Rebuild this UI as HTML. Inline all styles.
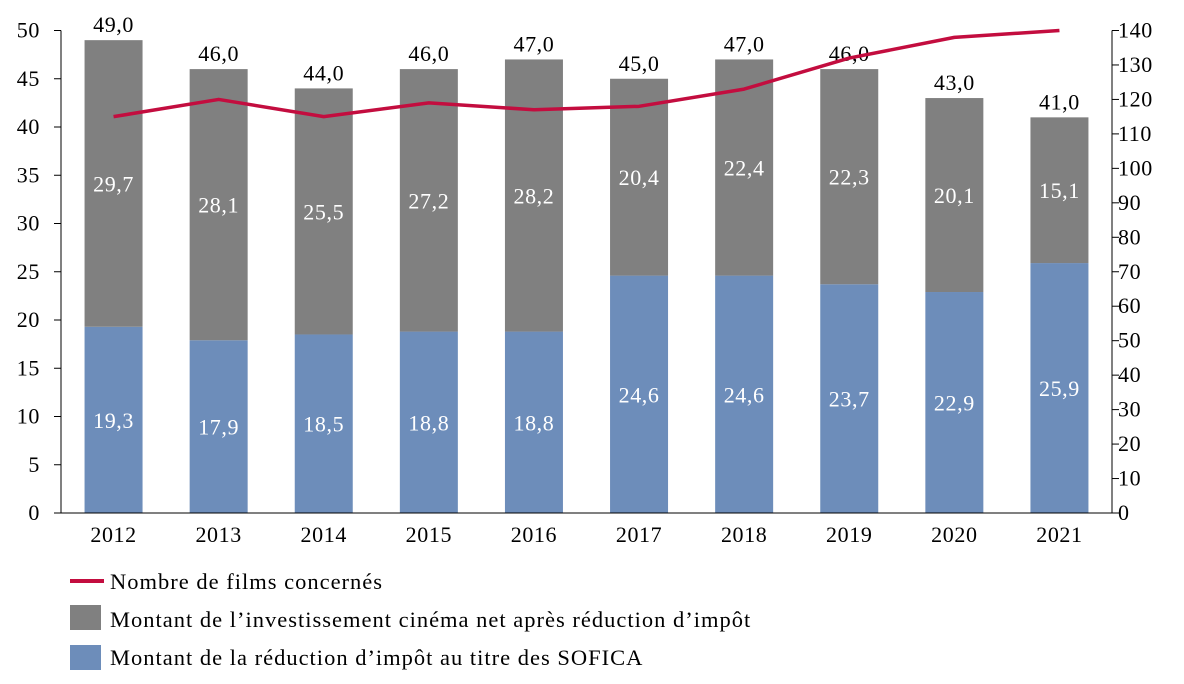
<!DOCTYPE html>
<html><head><meta charset="utf-8"><style>
body{margin:0;background:#fff}
svg{display:block;font-family:"Liberation Serif",serif}
</style></head><body>
<svg id="chart" width="1184" height="684" viewBox="0 0 1184 684"></svg>
<script>
const years=["2012","2013","2014","2015","2016","2017","2018","2019","2020","2021"];
const reduction=[19.3,17.9,18.5,18.8,18.8,24.6,24.6,23.7,22.9,25.9];
const investNet=[29.7,28.1,25.5,27.2,28.2,20.4,22.4,22.3,20.1,15.1];
const totals=[49.0,46.0,44.0,46.0,47.0,45.0,47.0,46.0,43.0,41.0];
const films=[115,120,115,119,117,118,123,132,138,140];
const leftTicks=[0,5,10,15,20,25,30,35,40,45,50];
const rightTicks=[0,10,20,30,40,50,60,70,80,90,100,110,120,130,140];

const NS="http://www.w3.org/2000/svg";
const svg=document.getElementById('chart');
function mk(t,a,txt){const e=document.createElementNS(NS,t);for(const k in a)e.setAttribute(k,a[k]);if(txt!=null)e.textContent=txt;svg.appendChild(e);return e;}
const y0=513,yTop=30.5,xL=61,xR=1112;
const yL=v=>y0-(y0-yTop)*v/50;
const yR=v=>y0-(y0-yTop)*v/140;
const step=(xR-xL)/years.length;
const xC=i=>xL+step*(i+0.5);
const bw=58;
const fmt=v=>v.toFixed(1).replace('.',',');
const FS=22, LS=0.6;

years.forEach((yr,i)=>{
  let b=mk('rect',{x:xC(i)-bw/2,y:yL(reduction[i]),width:bw,height:y0-yL(reduction[i]),fill:'#6d8dba'});
  
  
  let g=mk('rect',{x:xC(i)-bw/2,y:yL(totals[i]),width:bw,height:yL(reduction[i])-yL(totals[i]),fill:'#808080'});
  
  
  let t1=mk('text',{x:xC(i),y:(yL(0)+yL(reduction[i]))/2+8,'text-anchor':'middle','font-size':FS,'letter-spacing':LS,fill:'#fff'},fmt(reduction[i]));
  
  
  let t2=mk('text',{x:xC(i),y:(yL(reduction[i])+yL(totals[i]))/2+8,'text-anchor':'middle','font-size':FS,'letter-spacing':LS,fill:'#fff'},fmt(investNet[i]));
  
  
  let t3=mk('text',{x:xC(i),y:yL(totals[i])-8,'text-anchor':'middle','font-size':FS,'letter-spacing':LS,fill:'#000'},fmt(totals[i]));
  
  
  let xl=mk('text',{x:xC(i),y:542,'text-anchor':'middle','font-size':FS,'letter-spacing':LS,fill:'#000'},yr);
  
  
});
let pl=mk('polyline',{points:films.map((v,i)=>xC(i)+','+yR(v)).join(' '),fill:'none',stroke:'#c30d3f','stroke-width':3.5,'stroke-linejoin':'round'});



mk('line',{x1:xL,y1:yTop,x2:xL,y2:y0,stroke:'#000','stroke-width':1,});
mk('line',{x1:xR,y1:yTop,x2:xR,y2:y0,stroke:'#000','stroke-width':1,});
mk('line',{x1:xL-7,y1:y0,x2:xR+7,y2:y0,stroke:'#000','stroke-width':1,});
leftTicks.forEach(v=>{
  mk('line',{x1:xL-7,y1:yL(v),x2:xL,y2:yL(v),stroke:'#000'});
  let t=mk('text',{x:40,y:yL(v)+7,'text-anchor':'end','font-size':FS,'letter-spacing':LS},String(v));
  
  
});
rightTicks.forEach(v=>{
  mk('line',{x1:xR,y1:yR(v),x2:xR+7,y2:yR(v),stroke:'#000'});
  let t=mk('text',{x:1118,y:yR(v)+7,'text-anchor':'start','font-size':FS,'letter-spacing':LS},String(v));
  
  
});
mk('line',{x1:70,y1:581,x2:104,y2:581,stroke:'#c30d3f','stroke-width':4,});
mk('text',{x:110,y:589,'font-size':22.5,'letter-spacing':1,},'Nombre de films concernés');
mk('rect',{x:70,y:605,width:31,height:25,fill:'#808080',});
mk('text',{x:110,y:627,'font-size':22.5,'letter-spacing':1,},'Montant de l’investissement cinéma net après réduction d’impôt');
mk('rect',{x:70,y:645,width:31,height:25,fill:'#6d8dba',});
mk('text',{x:110,y:665,'font-size':22.5,'letter-spacing':1,},'Montant de la réduction d’impôt au titre des SOFICA');
</script>
</body></html>
